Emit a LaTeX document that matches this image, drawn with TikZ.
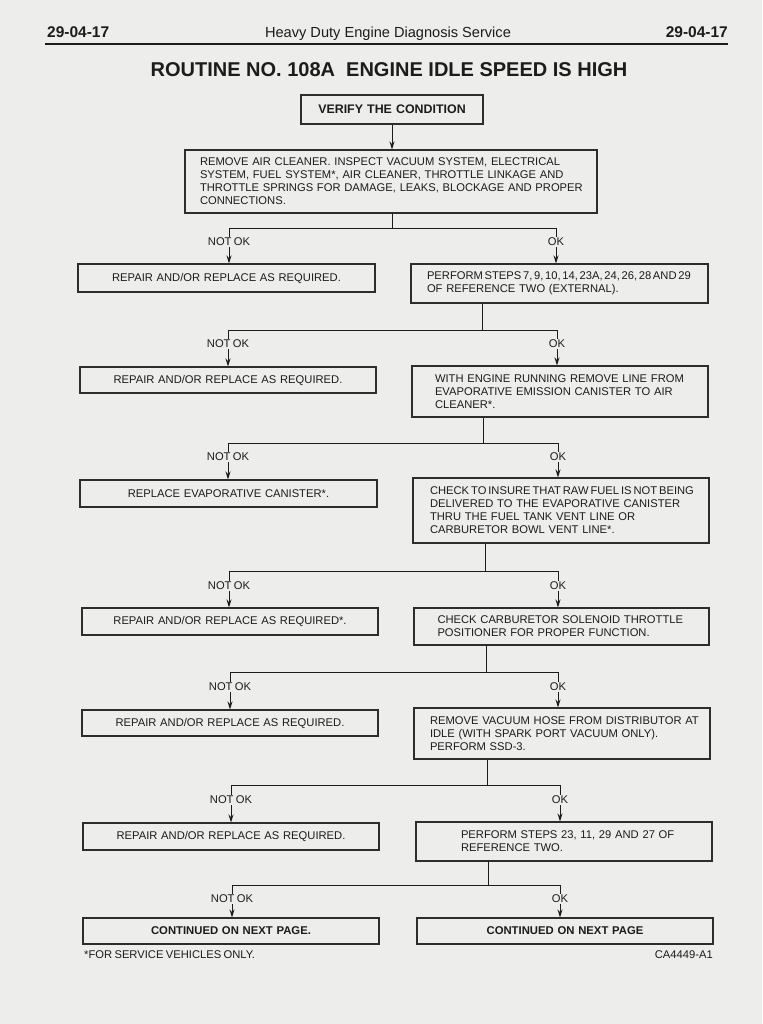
\documentclass[tikz,border=0pt]{standalone}
\usepackage{fontspec}
\setmainfont{Liberation Sans}
\usetikzlibrary{arrows.meta}
\definecolor{paper}{RGB}{237,237,235}
\definecolor{ink}{RGB}{28,28,28}
\definecolor{edge}{RGB}{45,45,45}
\newcommand\tightsp{\spaceskip=0.21em plus 0.05em\relax}
\newcommand\flowstage[9]{%
  \coordinate (t#9) at (#2,#3);
  \coordinate (L#9) at (#4,#3);
  \coordinate (R#9) at (#5,#3);
  \draw[conn] (#1.south -| t#9) -- (t#9);
  \draw[conn, line cap=rect] (L#9) -- (R#9);
  \draw[arr] (L#9) -- (#7.north -| L#9);
  \draw[arr] (R#9) -- (#8.north -| R#9);
  \node[lbl] (nk#9) at (#4,#6) {NOT OK};
  \node[lbl] (ok#9) at (#5,#6) {OK};
}
\tikzset{
  txt/.style={font=\fontsize{11.2}{13}\selectfont\tightsp, text=ink},
  box/.style={txt, draw=edge, line width=1.05pt, rectangle, inner sep=0pt},
  lbox/.style={box, align=left},
  cbox/.style={box, align=center},
  bbox/.style={cbox, font=\bfseries\fontsize{11.3}{13}\selectfont},
  conn/.style={draw=ink, line width=0.95pt},
  arr/.style={conn, -{Stealth[length=8pt,width=5pt]}},
  lbl/.style={txt, fill=paper, inner xsep=1pt, inner ysep=1.5pt},
}
\begin{document}
\begin{tikzpicture}[x=1pt,y=-1pt]
\fill[paper] (0,0) rectangle (762,1024);
\useasboundingbox (0,0) rectangle (762,1024);

% header
\node[anchor=base west, inner sep=0pt, text=ink, font=\bfseries\fontsize{15.5}{18}\selectfont] (hl) at (47,38) {29-04-17};
\node[anchor=base, inner sep=0pt, text=ink, font=\fontsize{14.6}{17}\selectfont] (hc) at (388,38) {Heavy Duty Engine Diagnosis Service};
\node[anchor=base east, inner sep=0pt, text=ink, font=\bfseries\fontsize{15.5}{18}\selectfont] (hr) at (728,38) {29-04-17};
\coordinate (rulea) at (45,44);
\coordinate (ruleb) at (728,44);
\draw[ink, line width=1.8pt] (rulea) -- (ruleb);

% title
\node[anchor=base, inner sep=0pt, text=ink, font=\bfseries\fontsize{20}{24}\selectfont] (title) at (389,77) {ROUTINE NO. 108A~ ENGINE IDLE SPEED IS HIGH};

% boxes
\node[bbox, font=\bfseries\fontsize{12.4}{14}\selectfont, minimum width=182pt, minimum height=29pt, text width=170pt] (verify) at (392,109.5) {VERIFY THE CONDITION};

\node[lbox, minimum width=412pt, minimum height=63pt, text width=382pt] (b2) at (391,181.5)
 {\mbox{REMOVE AIR CLEANER. INSPECT VACUUM SYSTEM, ELECTRICAL}\\
  \mbox{SYSTEM, FUEL SYSTEM*, AIR CLEANER, THROTTLE LINKAGE AND}\\
  \mbox{THROTTLE SPRINGS FOR DAMAGE, LEAKS, BLOCKAGE AND PROPER}\\
  \mbox{CONNECTIONS.}};

\node[cbox, minimum width=297pt, minimum height=28pt, text width=285pt] (r1L) at (226.5,278) {REPAIR AND/OR REPLACE AS REQUIRED.};
\node[lbox, minimum width=297pt, minimum height=39pt, text width=265pt] (r1R) at (559.5,283.5)
 {\mbox{\spaceskip=0.15em\relax PERFORM STEPS 7, 9, 10, 14, 23A, 24, 26, 28 AND 29}\\
  \mbox{OF REFERENCE TWO (EXTERNAL).}};

\node[cbox, minimum width=296pt, minimum height=26pt, text width=285pt] (r2L) at (228,380) {REPAIR AND/OR REPLACE AS REQUIRED.};
\node[lbox, minimum width=296pt, minimum height=51pt, text width=250pt] (r2R) at (560,391.5)
 {\mbox{WITH ENGINE RUNNING REMOVE LINE FROM}\\
  \mbox{EVAPORATIVE EMISSION CANISTER TO AIR}\\
  \mbox{CLEANER*.}};

\node[cbox, minimum width=297pt, minimum height=27pt, text width=285pt] (r3L) at (228.5,493.5) {REPLACE EVAPORATIVE CANISTER*.};
\node[lbox, minimum width=296pt, minimum height=65pt, text width=262pt] (r3R) at (561,510.5)
 {\mbox{\spaceskip=0.17em\relax CHECK TO INSURE THAT RAW FUEL IS NOT BEING}\\
  \mbox{DELIVERED TO THE EVAPORATIVE CANISTER}\\
  \mbox{THRU THE FUEL TANK VENT LINE OR}\\
  \mbox{CARBURETOR BOWL VENT LINE*.}};

\node[cbox, minimum width=296pt, minimum height=27pt, text width=285pt] (r4L) at (230,621.5) {REPAIR AND/OR REPLACE AS REQUIRED*.};
\node[lbox, minimum width=295pt, minimum height=37pt, text width=248pt] (r4R) at (561.5,626.5)
 {\mbox{CHECK CARBURETOR SOLENOID THROTTLE}\\
  \mbox{POSITIONER FOR PROPER FUNCTION.}};

\node[cbox, minimum width=296pt, minimum height=26pt, text width=285pt] (r5L) at (230,723) {REPAIR AND/OR REPLACE AS REQUIRED.};
\node[lbox, minimum width=296pt, minimum height=51pt, text width=264pt] (r5R) at (562,733.5)
 {\mbox{REMOVE VACUUM HOSE FROM DISTRIBUTOR AT}\\
  \mbox{IDLE (WITH SPARK PORT VACUUM ONLY).}\\
  \mbox{PERFORM SSD-3.}};

\node[cbox, minimum width=296pt, minimum height=27pt, text width=285pt] (r6L) at (231,836.5) {REPAIR AND/OR REPLACE AS REQUIRED.};
\node[lbox, minimum width=296pt, minimum height=39pt, text width=206pt] (r6R) at (564,841.5)
 {\mbox{PERFORM STEPS 23, 11, 29 AND 27 OF}\\
  \mbox{REFERENCE TWO.}};

\node[bbox, minimum width=296pt, minimum height=26pt, text width=285pt] (r7L) at (231,931) {CONTINUED ON NEXT PAGE.};
\node[bbox, minimum width=296pt, minimum height=26pt, text width=285pt] (r7R) at (565,931) {CONTINUED ON NEXT PAGE};

% connectors
\draw[arr] (verify.south) -- (b2.north -| verify.south);
\flowstage{b2}{392}{228}{229}{556}{242}{r1L}{r1R}{1}
\flowstage{r1R}{482}{330}{228}{557}{344}{r2L}{r2R}{2}
\flowstage{r2R}{483}{443}{228}{558}{457}{r3L}{r3R}{3}
\flowstage{r3R}{485}{571}{229}{558}{586}{r4L}{r4R}{4}
\flowstage{r4R}{486}{672}{230}{558}{687}{r5L}{r5R}{5}
\flowstage{r5R}{487}{785}{231}{560}{800}{r6L}{r6R}{6}
\flowstage{r6R}{488}{885}{232}{560}{899}{r7L}{r7R}{7}

% footnote
\node[txt, anchor=base west, inner sep=0pt] (fn) at (84,958) {*FOR SERVICE VEHICLES ONLY.};
\node[txt, anchor=base east, inner sep=0pt] (code) at (713,958) {CA4449-A1};
\end{tikzpicture}
\end{document}
